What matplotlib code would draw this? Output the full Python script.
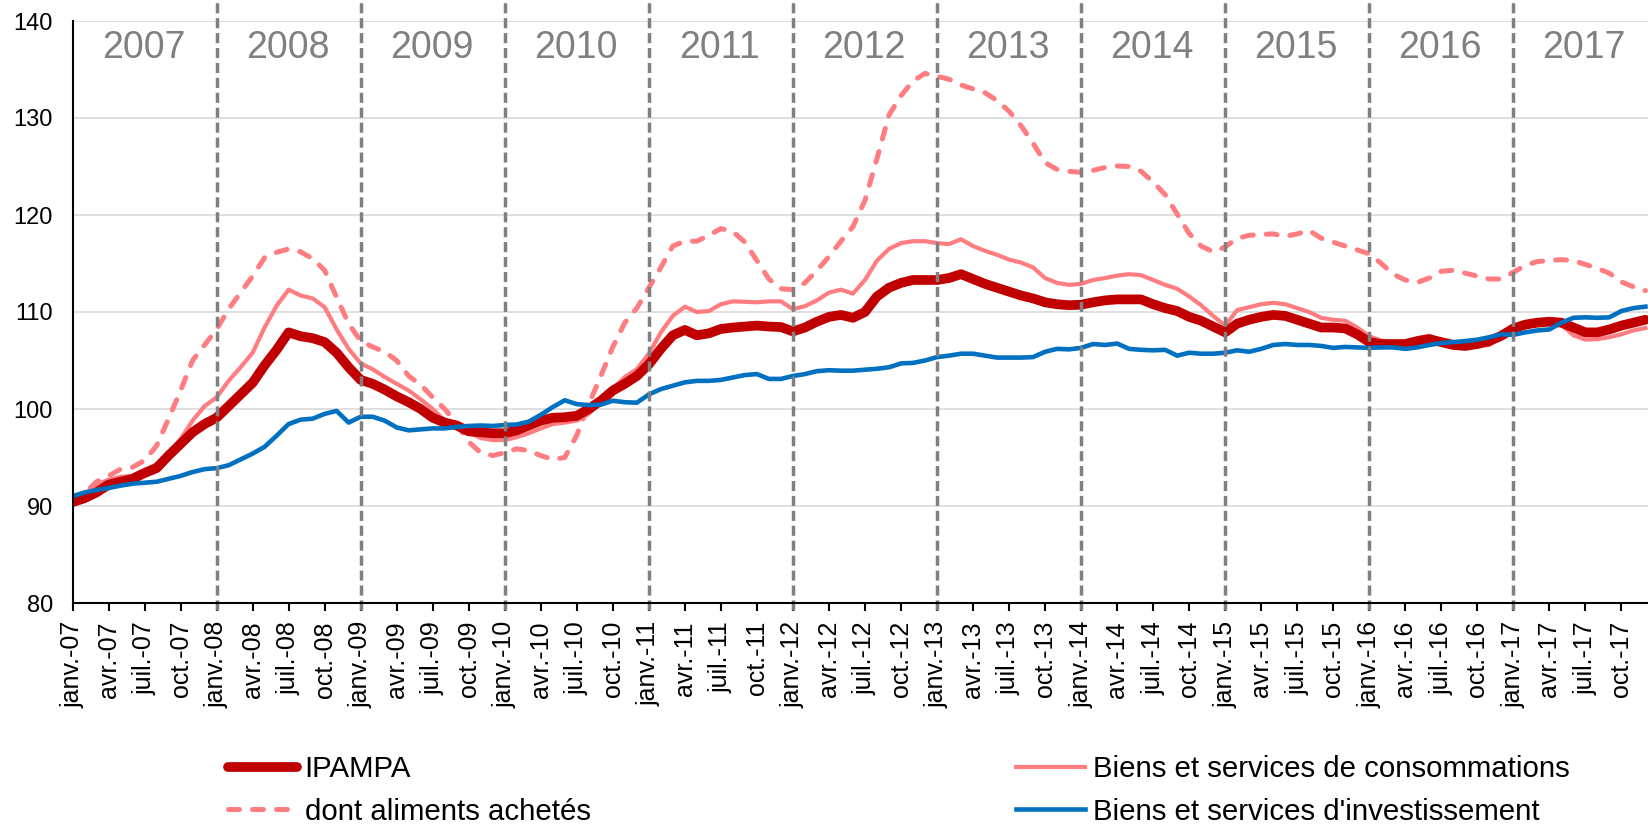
import numpy as np
import matplotlib.pyplot as plt

# indices mensuels janv. 2007 -> déc. 2017 (12 valeurs par ligne = 1 année)
ipampa = [
    90.4, 90.8, 91.4, 92.2, 92.5, 92.8, 93.4, 93.9, 95.2, 96.4, 97.6, 98.45,
    99.1, 100.3, 101.5, 102.7, 104.5, 106.1, 107.9, 107.5, 107.3, 106.9, 105.8, 104.3,
    103.0, 102.6, 102.0, 101.3, 100.7, 100.0, 99.1, 98.6, 98.3, 97.7, 97.6, 97.5,
    97.5, 97.8, 98.3, 98.8, 99.1, 99.15, 99.3, 100.0, 100.85, 101.9, 102.6, 103.4,
    104.6, 106.2, 107.6, 108.15, 107.6, 107.8, 108.25, 108.4, 108.5, 108.6, 108.5, 108.45,
    108.0, 108.4, 109.0, 109.5, 109.7, 109.4, 110.0, 111.6, 112.5, 113.0, 113.3, 113.3,
    113.3, 113.5, 113.9, 113.4, 112.9, 112.5, 112.1, 111.7, 111.4, 111.0, 110.8, 110.7,
    110.75, 111.0, 111.2, 111.3, 111.3, 111.3, 110.8, 110.4, 110.1, 109.5, 109.1, 108.5,
    107.9, 108.8, 109.2, 109.5, 109.7, 109.6, 109.2, 108.8, 108.4, 108.4, 108.3, 107.7,
    106.9, 106.7, 106.7, 106.7, 107.0, 107.2, 106.9, 106.6, 106.5, 106.7, 107.0, 107.55,
    108.3, 108.7, 108.9, 109.0, 108.9, 108.4, 107.9, 107.9, 108.2, 108.6, 108.9, 109.2,
]
biens_conso = [
    90.1, 91.2, 92.2, 92.7, 93.0, 93.1, 93.7, 94.3, 95.4, 96.9, 98.8, 100.3,
    101.2, 102.9, 104.3, 105.8, 108.4, 110.65, 112.3, 111.7, 111.4, 110.5, 108.2, 106.2,
    104.7, 104.1, 103.3, 102.6, 101.9, 101.0, 100.0, 98.8, 98.45, 97.6, 97.0, 96.8,
    96.8, 97.1, 97.5, 98.0, 98.45, 98.6, 98.8, 99.5, 100.75, 102.1, 103.3, 104.1,
    105.7, 107.9, 109.6, 110.55, 110.0, 110.1, 110.8, 111.1, 111.05, 111.0, 111.1, 111.1,
    110.3, 110.6, 111.2, 112.0, 112.3, 111.9, 113.3, 115.3, 116.5, 117.1, 117.3, 117.3,
    117.1, 117.0, 117.5, 116.8, 116.3, 115.9, 115.4, 115.1, 114.6, 113.5, 113.0, 112.8,
    112.9, 113.3, 113.5, 113.75, 113.9, 113.8, 113.3, 112.8, 112.4, 111.6, 110.7, 109.6,
    108.6, 110.2, 110.5, 110.8, 110.95, 110.8, 110.4, 110.0, 109.4, 109.2, 109.1, 108.4,
    107.5, 107.05, 106.9, 106.9, 107.3, 107.55, 107.0, 106.5, 106.4, 106.5, 106.6, 107.8,
    108.35, 108.8, 108.8, 108.8, 108.7, 107.6, 107.15, 107.2, 107.4, 107.7, 108.1, 108.35,
]
aliments = [
    90.2, 91.3, 92.5, 93.1, 93.8, 94.0, 94.7, 96.2, 99.0, 101.9, 105.0, 106.6,
    108.2, 110.3, 112.0, 113.7, 115.6, 116.15, 116.5, 116.2, 115.5, 114.3, 111.5, 108.8,
    107.0, 106.4, 105.9, 105.0, 103.4, 102.5, 101.2, 100.0, 98.5, 96.6, 95.5, 95.2,
    95.5, 95.9, 95.7, 95.2, 94.8, 95.0, 97.3, 100.5, 103.4, 106.4, 108.9, 110.4,
    112.5, 114.6, 116.8, 117.3, 117.3, 117.9, 118.6, 118.3, 117.2, 115.3, 113.4, 112.4,
    112.3, 113.0, 114.3, 115.7, 117.3, 118.8, 121.5, 125.8, 130.3, 132.3, 133.8, 134.6,
    134.3, 134.0, 133.4, 133.0, 132.6, 131.8, 130.7, 129.2, 127.4, 125.4, 124.7, 124.5,
    124.4, 124.6, 124.9, 125.05, 125.0, 124.5, 123.4, 122.1, 120.1, 118.1, 116.8, 116.2,
    116.7, 117.6, 117.9, 118.0, 118.05, 117.8, 118.05, 118.4, 117.6, 117.2, 116.8, 116.4,
    116.0, 115.0, 113.9, 113.3, 113.05, 113.5, 114.2, 114.3, 114.0, 113.7, 113.4, 113.4,
    114.1, 114.8, 115.2, 115.3, 115.4, 115.3, 114.9, 114.5, 114.0, 113.1, 112.6, 112.2,
]
biens_invest = [
    91.0, 91.4, 91.65, 91.85, 92.1, 92.3, 92.4, 92.5, 92.8, 93.1, 93.5, 93.8,
    93.9, 94.2, 94.8, 95.4, 96.1, 97.25, 98.45, 98.9, 99.0, 99.5, 99.8, 98.6,
    99.2, 99.2, 98.8, 98.1, 97.8, 97.9, 98.0, 98.0, 98.15, 98.25, 98.3, 98.25,
    98.35, 98.4, 98.7, 99.4, 100.2, 100.9, 100.5, 100.4, 100.45, 100.85, 100.7, 100.65,
    101.5, 102.05, 102.4, 102.75, 102.9, 102.9, 103.0, 103.25, 103.5, 103.6, 103.1, 103.1,
    103.4, 103.6, 103.9, 104.0, 103.95, 103.95, 104.05, 104.15, 104.3, 104.7, 104.75, 105.0,
    105.35, 105.5, 105.7, 105.7, 105.5, 105.3, 105.3, 105.3, 105.35, 105.9, 106.2, 106.15,
    106.3, 106.7, 106.6, 106.75, 106.2, 106.1, 106.05, 106.1, 105.5, 105.8, 105.7, 105.7,
    105.8, 106.05, 105.9, 106.2, 106.6, 106.7, 106.6, 106.6, 106.5, 106.3, 106.4, 106.35,
    106.3, 106.35, 106.35, 106.2, 106.35, 106.6, 106.8, 106.9, 107.0, 107.15, 107.4, 107.7,
    107.65, 107.9, 108.1, 108.2, 108.9, 109.4, 109.45, 109.4, 109.45, 110.1, 110.4, 110.55,
]

annees = list(range(2007, 2018))
mois_trim = ['janv.', 'avr.', 'juil.', 'oct.']

plt.rcParams['font.family'] = ['Liberation Sans', 'DejaVu Sans']

W, H = 1649, 825
fig = plt.figure(figsize=(W / 100, H / 100), dpi=100)
ax = fig.add_axes([72.5 / W, 222 / H, (W - 72.5) / W, 582 / H])

x = np.arange(len(ipampa))
rose = '#FF7C80'
l_alim, = ax.plot(x, aliments, color=rose, lw=3.6, dashes=(2.2, 2.6),
                  dash_capstyle='round', label='dont aliments achetés', zorder=3)
l_conso, = ax.plot(x, biens_conso, color=rose, lw=3.0, solid_joinstyle='round',
                   label='Biens et services de consommations', zorder=4)
l_ipampa, = ax.plot(x, ipampa, color='#C00000', lw=7, solid_joinstyle='round',
                    solid_capstyle='round', label='IPAMPA', zorder=5)
l_invest, = ax.plot(x, biens_invest, color='#0070C0', lw=3.3, solid_joinstyle='round',
                    label="Biens et services d'investissement", zorder=6)

ax.set_xlim(0, 131.3)
ax.set_ylim(80, 140)
ax.set_yticks(np.arange(80, 141, 10))
ax.set_xticks(np.arange(0, len(ipampa), 3))
ax.set_xticklabels([f"{m}-{str(a)[2:]}" for a in annees for m in mois_trim], rotation=90)

ax.yaxis.grid(True, color='#D9D9D9', lw=1.2)
ax.set_axisbelow(True)
for s in ['top', 'right']:
    ax.spines[s].set_visible(False)
for s in ['left', 'bottom']:
    ax.spines[s].set_linewidth(1.5)
    ax.spines[s].set_zorder(8)
ax.tick_params(axis='x', length=6, width=1.5, pad=7, labelsize=18)
ax.tick_params(axis='y', length=0, pad=14, labelsize=17)

# séparations des années + étiquettes
for k, a in enumerate(annees):
    if k > 0:
        ax.plot([12 * k, 12 * k], [79.3, 142.2], color='#808080', lw=2.5,
                dashes=(2.9, 1.4), clip_on=False, zorder=7)
    ax.text(12 * k + 5.9, 136.15, str(a), ha='center', va='baseline',
            fontsize=27, color='#808080')

fig.legend(handles=[l_ipampa, l_alim, l_conso, l_invest], ncol=2, frameon=False,
           loc='upper left', bbox_to_anchor=(228 / W, 1 - 755 / H),
           fontsize=21.2, handlelength=2.35, handletextpad=0.25,
           columnspacing=14.45, labelspacing=0.5, borderpad=0, borderaxespad=0)

fig.savefig('out.png', dpi=100)
